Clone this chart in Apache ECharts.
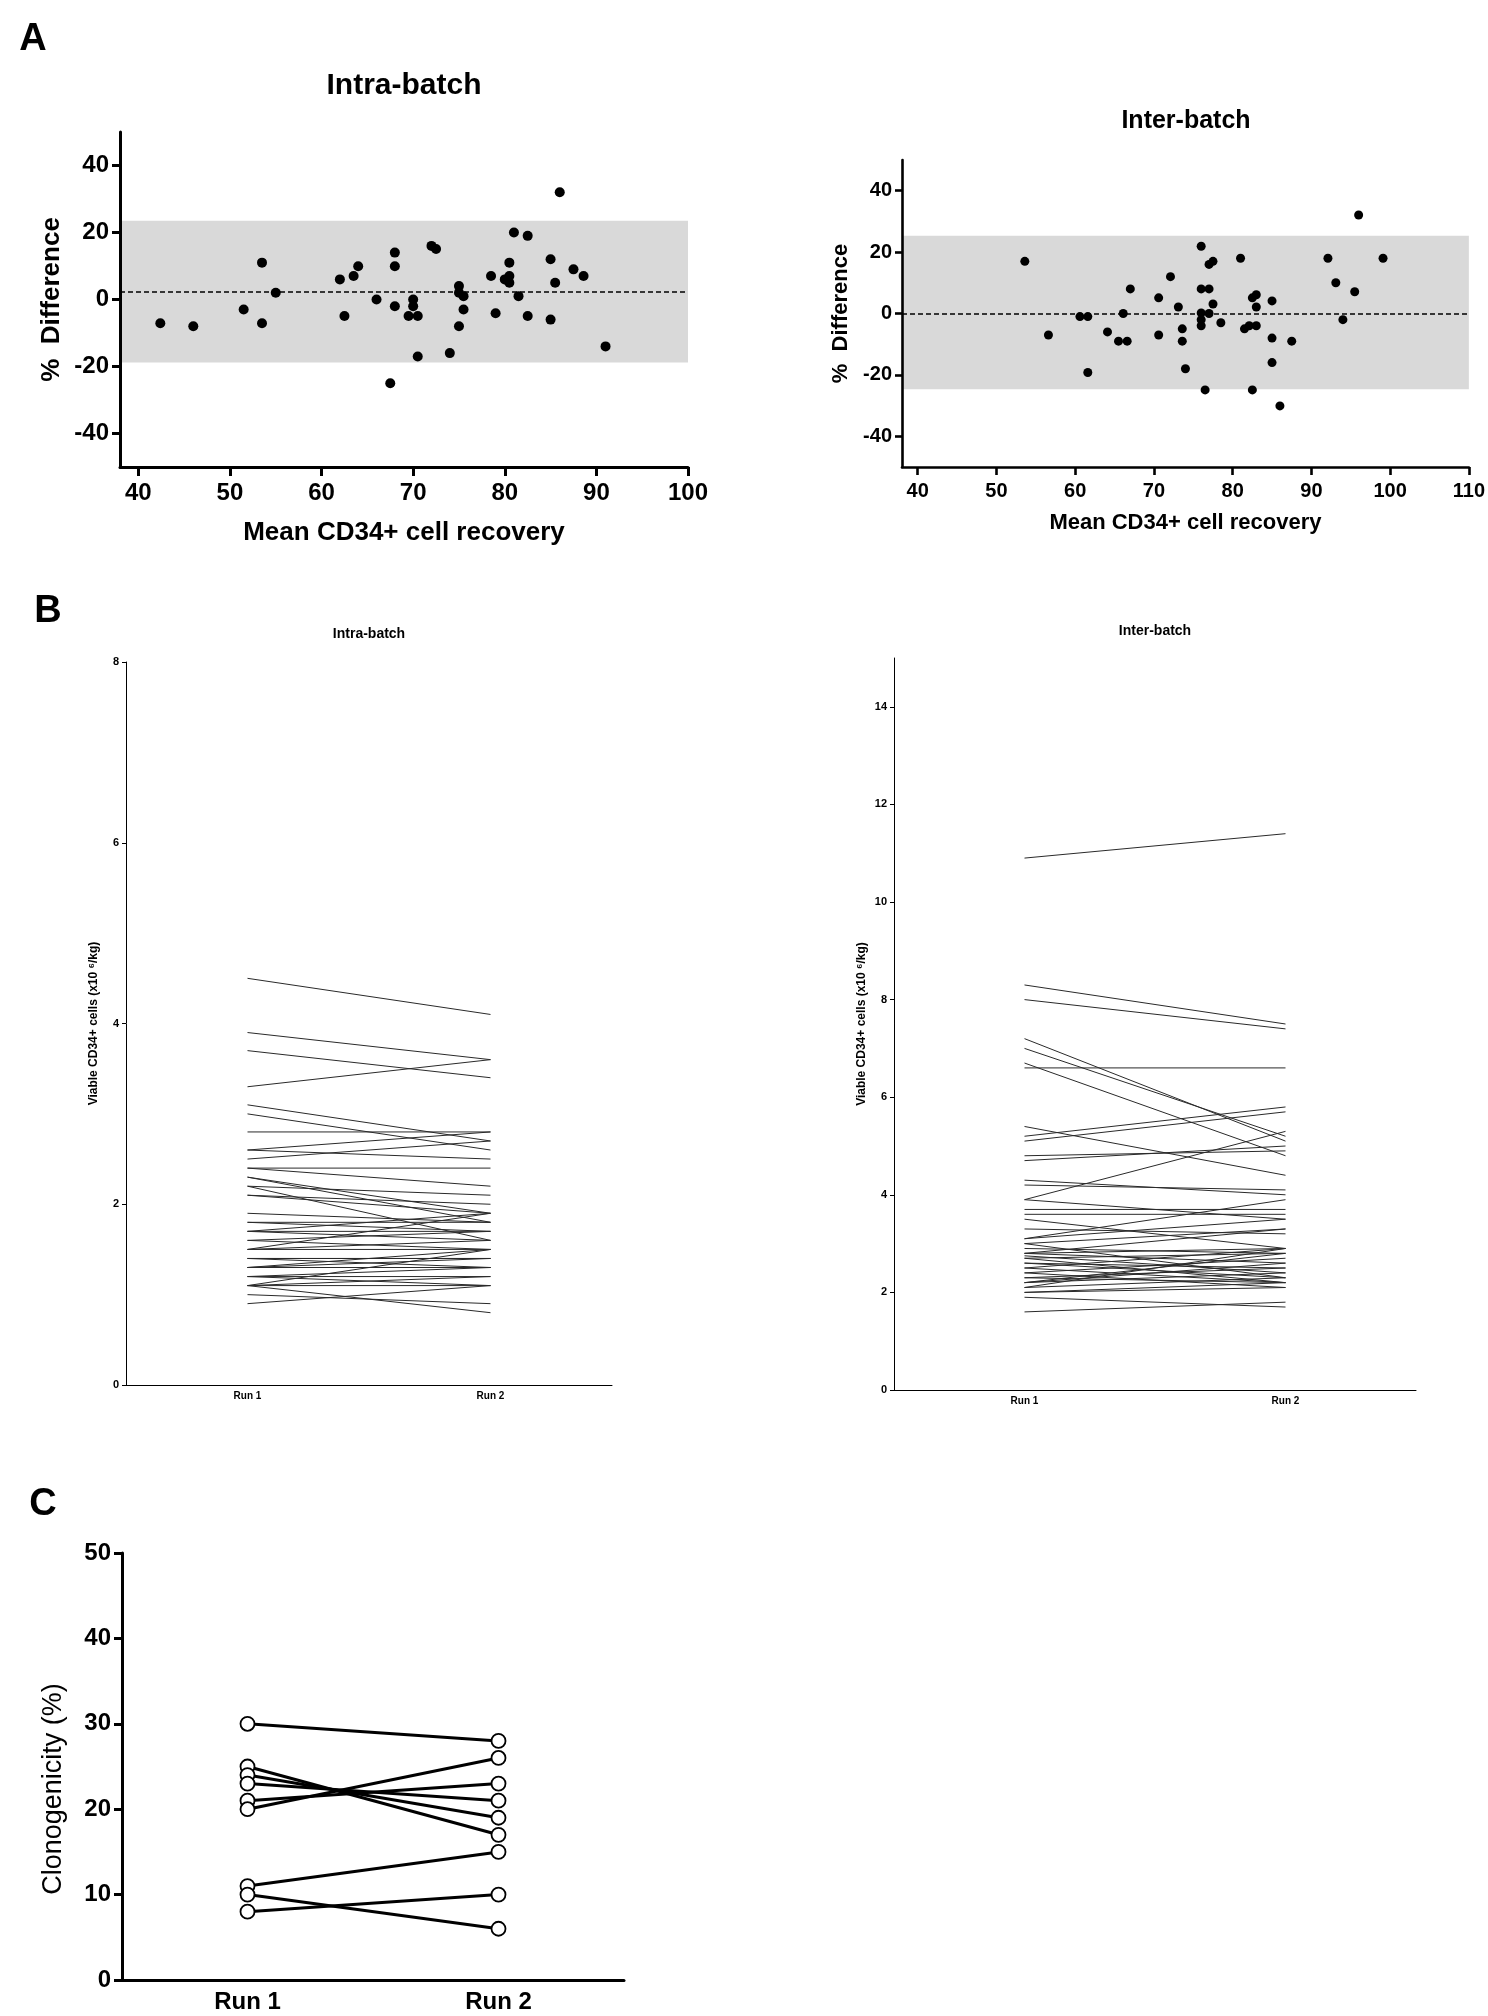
<!DOCTYPE html>
<html><head><meta charset="utf-8">
<script src="https://cdn.jsdelivr.net/npm/echarts@6/dist/echarts.min.js"></script>
<style>html,body{margin:0;padding:0;background:#fff}#c{width:1488px;height:2016px}</style>
</head><body><div id="c"></div>
<script>
const FONT = "'Liberation Sans', Arial, Helvetica, sans-serif";

// ---- Panel A: Bland-Altman, intra-batch ----
const intraMean = [42.4,46.0,51.5,53.5,53.5,55.0,62.0,62.5,63.5,64.0,66.0,67.5,68.0,68.0,68.0,70.0,70.0,69.5,70.5,70.5,72.0,72.5,74.0,75.0,75.0,75.5,75.0,75.5,78.5,79.0,80.0,80.5,80.5,80.5,81.0,81.5,82.5,82.5,85.0,85.0,85.5,86.0,87.5,88.6,91.0];
const intraDiff = [-7.1,-8.0,-3.0,11.0,-7.1,2.0,6.0,-4.9,7.0,9.9,0.0,-25.0,14.0,9.9,-2.0,0.0,-2.0,-4.9,-4.9,-17.0,16.0,15.1,-16.0,4.0,2.0,1.0,-8.0,-3.0,7.0,-4.1,6.0,7.0,5.0,11.0,20.0,1.0,19.0,-4.9,12.0,-6.0,5.0,32.0,9.0,7.0,-14.0];
const intraBias = 2.2;
const intraLimits = [-18.8, 23.5];
const xTicksIntra = [40,50,60,70,80,90,100];

// ---- Panel A: Bland-Altman, inter-batch ----
const interMean = [53.6,56.6,60.6,61.6,61.6,64.1,65.5,66.1,66.6,67.0,70.6,70.6,72.1,73.1,73.6,73.6,74.0,76.0,76.0,76.0,76.0,76.0,76.5,77.0,77.0,77.5,77.0,77.5,78.5,81.0,81.5,82.1,82.5,83.0,83.0,83.0,82.5,85.0,85.0,85.0,86.0,87.5,92.1,93.1,94.0,95.5,96.0,99.1];
const interDiff = [17.0,-7.0,-1.0,-1.0,-19.2,-6.0,-9.0,0.0,-9.0,8.0,5.1,-7.0,12.0,2.1,-5.0,-9.0,-18.0,21.9,8.0,0.2,-2.0,-4.0,-24.9,8.0,16.0,17.0,0.0,3.1,-3.0,18.0,-5.0,-4.0,5.1,6.1,2.1,-4.0,-24.9,4.1,-8.0,-16.0,-30.1,-9.0,18.0,10.0,-2.0,7.1,32.1,18.0];
const interBias = 0;
const interLimits = [-24.7, 25.3];
const xTicksInter = [40,50,60,70,80,90,100,110];
const yTicksDiff = [-40,-20,0,20,40];

// ---- Panel B: viable CD34+ cells (x10^6/kg) ----
const runCategories = ['Run 1', 'Run 2'];
const intraRun1 = [4.5,3.9,3.7,3.3,3.1,3.0,2.8,2.6,2.6,2.5,2.4,2.4,2.3,2.3,2.2,2.2,2.1,1.9,1.8,1.7,1.7,1.6,1.6,1.5,1.5,1.4,1.4,1.3,1.3,1.3,1.2,1.2,1.1,1.1,1.1,1.1,1.0,0.9,1.8,2.1,1.2,1.5,1.7,1.3,1.4];
const intraRun2 = [4.1,3.6,3.4,3.6,2.7,2.6,2.8,2.8,2.5,2.7,2.4,2.2,1.9,1.8,2.1,1.6,2.0,1.8,1.8,1.9,1.7,1.7,1.5,1.9,1.6,1.4,1.3,1.5,1.3,1.4,1.3,1.1,1.5,1.1,1.2,0.8,0.9,1.1,1.7,1.9,1.2,1.5,1.6,1.3,1.4];
const interRun1 = [10.9,8.3,8.0,7.2,7.0,6.7,6.6,5.4,5.2,5.1,4.8,4.7,4.3,4.2,3.9,3.9,3.7,3.6,3.5,3.3,3.1,3.1,3.0,2.9,2.8,2.8,2.75,2.7,2.7,2.6,2.6,2.5,2.5,2.4,2.4,2.3,2.3,2.2,2.2,2.1,2.1,2.0,2.0,1.9,1.6,2.8,2.2,3.0];
const interRun2 = [11.4,7.5,7.4,5.1,5.2,4.8,6.6,4.4,5.8,5.7,4.9,5.0,4.0,4.1,5.3,3.5,3.7,3.6,2.9,3.2,3.9,3.5,3.3,2.8,2.6,2.9,2.4,2.8,2.2,2.5,2.3,2.9,2.2,2.7,2.1,2.5,2.2,2.4,2.6,2.3,2.9,2.2,2.1,1.7,1.8,3.3,2.8,2.3];
const yTicksInterB = [0,2,4,6,8,10,12,14];

// ---- Panel C: clonogenicity (%) ----
const cloRun1 = [30,25,24,23,21,20,11,10,8];
const cloRun2 = [28,17,19,21,23,26,15,6,10];

const chart = echarts.init(document.getElementById('c'), null, {renderer: 'canvas'});

function boldTxt(size) { return {fontFamily: FONT, fontWeight: 'bold', fontSize: size, color: '#000'}; }

function valueX(gi, min, max, ticks, w, fs, name, nfs, gap, tickLen) {
  return {gridIndex: gi, type: 'value', min: min, max: max, z: 10,
    axisLine: {onZero: false, lineStyle: {color: '#000', width: w}},
    axisTick: {customValues: ticks, length: tickLen, lineStyle: {color: '#000', width: w}},
    axisLabel: Object.assign({customValues: ticks, margin: 14}, boldTxt(fs)),
    splitLine: {show: false},
    name: name, nameLocation: 'middle', nameGap: gap, nameTextStyle: boldTxt(nfs)};
}
function valueY(gi, min, max, ticks, w, fs, name, nfs, gap, tickLen) {
  return {gridIndex: gi, type: 'value', min: min, max: max, z: 10,
    axisLine: {show: true, onZero: false, lineStyle: {color: '#000', width: w}},
    axisTick: {show: true, customValues: ticks, length: tickLen, lineStyle: {color: '#000', width: w}},
    axisLabel: Object.assign({customValues: ticks, margin: tickLen + 3}, boldTxt(fs)),
    splitLine: {show: false},
    name: name, nameLocation: 'middle', nameGap: gap, nameTextStyle: boldTxt(nfs)};
}
function catX(gi, w, fs, tickLen, margin) {
  return {gridIndex: gi, type: 'category', data: runCategories, boundaryGap: true, z: 10,
    axisLine: {onZero: false, lineStyle: {color: '#000', width: w}},
    axisTick: {alignWithLabel: true, length: tickLen, lineStyle: {color: '#000', width: w}},
    axisLabel: Object.assign({margin: margin}, boldTxt(fs)),
    splitLine: {show: false}};
}

const grids = [
  {left: 120, top: 132, width: 568, height: 335},
  {left: 902, top: 160, width: 568, height: 307},
  {left: 126, top: 662, width: 486, height: 723},
  {left: 894, top: 658, width: 522, height: 732},
  {left: 122, top: 1553, width: 502, height: 427}
];

const xAxes = [
  valueX(0, 38, 100, xTicksIntra, 3, 24, 'Mean CD34+ cell recovery', 26, 53, 9),
  valueX(1, 38, 110, xTicksInter, 2.6, 20, 'Mean CD34+ cell recovery', 22, 45, 8),
  catX(2, 1, 10, 4, 6),
  catX(3, 1, 10, 4, 6),
  catX(4, 3, 24, 8, 10)
];
const yAxes = [
  valueY(0, -50, 50, yTicksDiff, 3, 24, '%  Difference', 26, 55, 8),
  valueY(1, -50, 50, yTicksDiff, 2.6, 20, '%  Difference', 22, 50, 7),
  Object.assign(valueY(2, 0, 8, [0,2,4,6,8], 1, 11, 'Viable CD34+ cells (x10 \u2076/kg)', 12, 26, 4), {interval: 2}),
  valueY(3, 0, 15, yTicksInterB, 1, 11, 'Viable CD34+ cells (x10 \u2076/kg)', 12, 26, 4),
  Object.assign(valueY(4, 0, 50, [0,10,20,30,40,50], 3, 24, '', 26, 58, 8), {interval: 10})
];

const series = [];
function baSeries(idx, means, diffs, bias, lim) {
  series.push({type: 'line', xAxisIndex: idx, yAxisIndex: idx, data: [], z: 1, silent: true,
    markArea: {silent: true, itemStyle: {color: '#d9d9d9'}, data: [[{yAxis: lim[1]}, {yAxis: lim[0]}]]}});
  series.push({type: 'scatter', xAxisIndex: idx, yAxisIndex: idx, z: 5,
    data: means.map((m, i) => [m, diffs[i]]), symbolSize: idx === 0 ? 10 : 9,
    itemStyle: {color: '#000', opacity: 1},
    markLine: {silent: true, symbol: 'none', label: {show: false},
      lineStyle: {color: '#000', type: [5, 3], width: 1.5}, data: [{yAxis: bias}]}});
}
baSeries(0, intraMean, intraDiff, intraBias, intraLimits);
baSeries(1, interMean, interDiff, interBias, interLimits);

intraRun1.forEach((v, i) => series.push({type: 'line', xAxisIndex: 2, yAxisIndex: 2,
  data: [v, intraRun2[i]], symbol: 'none', silent: true, lineStyle: {color: '#2a2a2a', width: 1}}));
interRun1.forEach((v, i) => series.push({type: 'line', xAxisIndex: 3, yAxisIndex: 3,
  data: [v, interRun2[i]], symbol: 'none', silent: true, lineStyle: {color: '#2a2a2a', width: 1}}));
cloRun1.forEach((v, i) => series.push({type: 'line', xAxisIndex: 4, yAxisIndex: 4,
  data: [v, cloRun2[i]], symbol: 'circle', symbolSize: 14, showAllSymbol: true, silent: true,
  lineStyle: {color: '#000', width: 3},
  itemStyle: {color: '#fff', borderColor: '#000', borderWidth: 1.8, opacity: 1}}));

function txt(x, y, text, size, weight, rot) {
  return {type: 'text', x: x, y: y, rotation: rot || 0, silent: true,
    style: {text: text, fontFamily: FONT, fontWeight: weight || 'bold', fontSize: size, fill: '#000',
      align: 'center', verticalAlign: 'middle', textAlign: 'center', textVerticalAlign: 'middle'}};
}

chart.setOption({
  animation: false,
  backgroundColor: '#fff',
  grid: grids,
  xAxis: xAxes,
  yAxis: yAxes,
  series: series,
  graphic: [
    txt(33, 40, 'A', 38), txt(404, 86, 'Intra-batch', 30), txt(1186, 121, 'Inter-batch', 25),
    txt(48, 612, 'B', 38), txt(369, 634, 'Intra-batch', 14), txt(1155, 631, 'Inter-batch', 14),
    txt(43, 1505, 'C', 38),
    txt(54, 1789, 'Clonogenicity (%)', 27, 'normal', Math.PI / 2)
  ]
});
</script></body></html>
